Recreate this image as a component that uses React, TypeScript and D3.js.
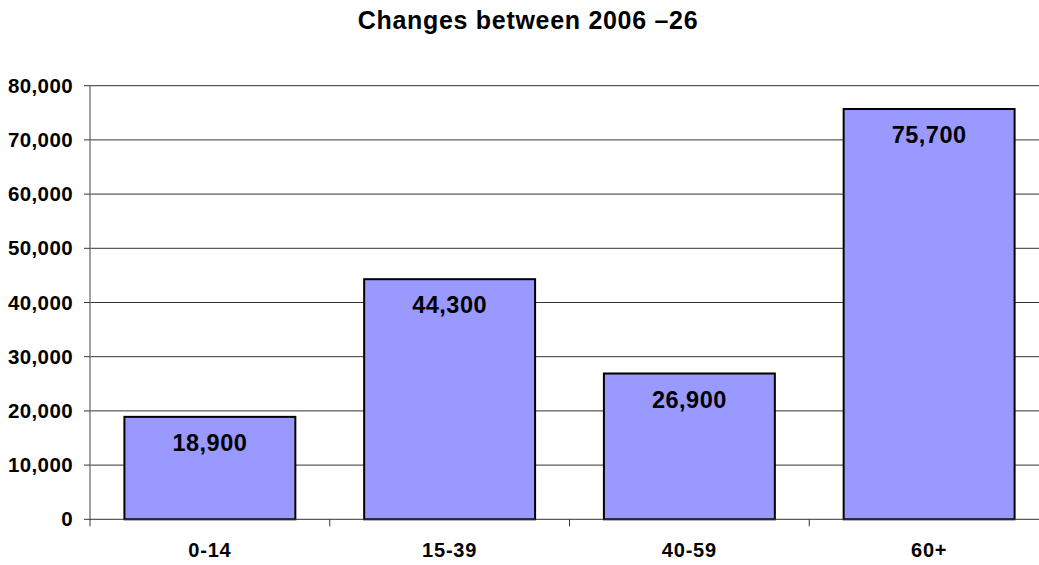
import React from 'react';
import * as d3 from 'd3';

const categories = ['0-14', '15-39', '40-59', '60+'];
const values = [18900, 44300, 26900, 75700];
const yTicks = [0, 10000, 20000, 30000, 40000, 50000, 60000, 70000, 80000];
const title = 'Changes between 2006 \u201326';

const width = 1039;
const height = 565;
const font = '"Liberation Sans", Arial, sans-serif';

const App: React.FC = () => {
  const left = 90;
  const right = 1049;
  const top = 85.7;
  const bottom = 519.3;

  const x = d3
    .scaleBand<string>()
    .domain(categories)
    .range([left, right])
    .paddingInner(0.287)
    .paddingOuter(0.1435);
  const y = d3.scaleLinear().domain([0, 80000]).range([bottom, top]);
  const fmt = d3.format(',');
  const step = x.step();
  // boundaries between categories, where the little ticks go
  const bounds = d3.range(categories.length).map((i) => left + i * step);

  return (
    <svg
      width={width}
      height={height}
      style={{ position: 'absolute', left: 0, top: 0, background: '#fff' }}
      fontFamily={font}
      fontWeight="bold"
    >
      <text x={528} y={28.5} textAnchor="middle" fontSize={25} letterSpacing={0.7}>
        {title}
      </text>

      {/* gridlines */}
      {yTicks.slice(1).map((t) => (
        <line key={'g' + t} x1={left} x2={right} y1={y(t)} y2={y(t)} stroke="#333" strokeWidth={1} />
      ))}

      {/* bars */}
      {categories.map((c, i) => (
        <rect
          key={c}
          x={x(c)}
          y={y(values[i])}
          width={x.bandwidth()}
          height={y(0) - y(values[i])}
          fill="#9999FF"
          stroke="#000"
          strokeWidth={2}
        />
      ))}

      {/* y axis */}
      <line x1={left} x2={left} y1={top} y2={bottom} stroke="#808080" strokeWidth={1.5} />
      {yTicks.map((t) => (
        <g key={'t' + t}>
          <line x1={left - 6} x2={left} y1={y(t)} y2={y(t)} stroke="#333" />
          <text x={73} y={y(t) + 7} textAnchor="end" fontSize={20.5} letterSpacing={0.4}>
            {fmt(t)}
          </text>
        </g>
      ))}

      {/* x axis */}
      <line x1={left} x2={right} y1={bottom} y2={bottom} stroke="#333" strokeWidth={1} />
      {bounds.map((b, i) => (
        <line key={'b' + i} x1={b} x2={b} y1={bottom} y2={bottom + 7} stroke="#333" />
      ))}
      {categories.map((c) => (
        <text
          key={'c' + c}
          x={(x(c) ?? 0) + x.bandwidth() / 2}
          y={557}
          textAnchor="middle"
          fontSize={20}
          letterSpacing={0.8}
        >
          {c}
        </text>
      ))}

      {/* value labels */}
      {categories.map((c, i) => (
        <text
          key={'v' + c}
          x={(x(c) ?? 0) + x.bandwidth() / 2}
          y={y(values[i]) + 34}
          textAnchor="middle"
          fontSize={23.5}
          letterSpacing={0.5}
        >
          {fmt(values[i])}
        </text>
      ))}
    </svg>
  );
};

export default App;
